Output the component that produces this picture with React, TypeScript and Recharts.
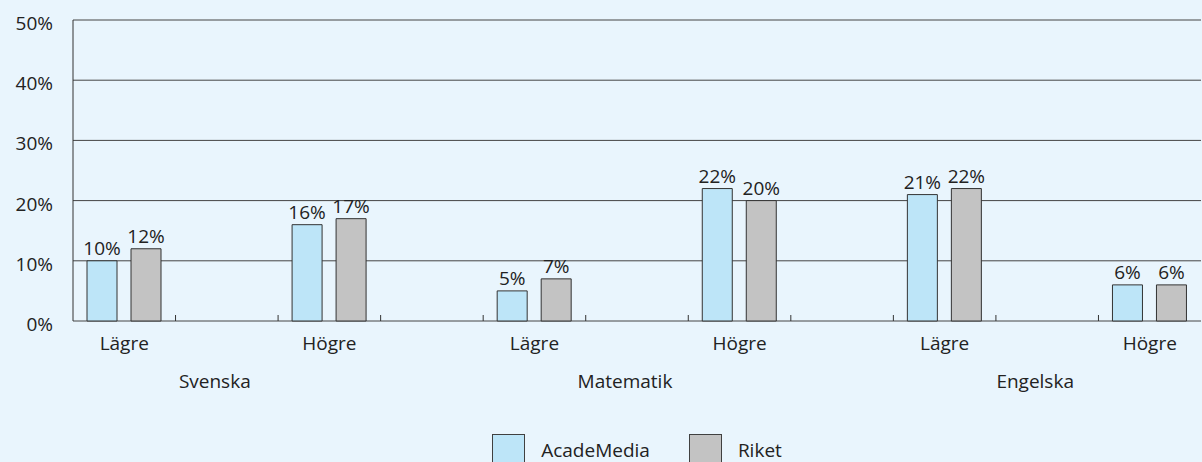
import React from "react";
import { BarChart, Bar, XAxis, YAxis, CartesianGrid, Legend, LabelList } from "recharts";

// slots: a bar pair every other slot, empty slots carry the subject label
const levels = ["Lägre", "", "Högre", "", "Lägre", "", "Högre", "", "Lägre", "", "Högre"];
const subjects = ["", "Svenska", "", "", "", "Matematik", "", "", "", "Engelska", ""];
const acadeMedia = [10, null, 16, null, 5, null, 22, null, 21, null, 6];
const riket = [12, null, 17, null, 7, null, 20, null, 22, null, 6];
const yTicks = [0, 10, 20, 30, 40, 50];
const slotBounds = [1, 2, 3, 4, 5, 6, 7, 8, 9, 10];

const data = levels.map((level, i) => ({
  slot: i,
  AcadeMedia: acadeMedia[i],
  Riket: riket[i],
}));

const FONT = "'Open Sans', 'Noto Sans', sans-serif";
const BG = "#e9f5fd";
const BLUE = "#bde5f8";
const GREY = "#c3c3c3";
const TEXT = "#222";

const CategoryTick = (props: any) => {
  const { x, y, payload } = props;
  const i = Number(payload.value);
  return (
    <g>
      <text x={x} y={y + 22} textAnchor="middle" dominantBaseline="central" fontFamily={FONT} fontSize={19} fill={TEXT}>
        {levels[i]}
      </text>
      {subjects[i] && (
        <text x={x - 12} y={y + 60} textAnchor="middle" dominantBaseline="central" fontFamily={FONT} fontSize={19} fill={TEXT}>
          {subjects[i]}
        </text>
      )}
    </g>
  );
};

const YTick = (props: any) => {
  const { x, y, payload } = props;
  return (
    <text x={x} y={y + 3} textAnchor="end" dominantBaseline="central" fontFamily={FONT} fontSize={19} fill={TEXT}>
      {`${payload.value}%`}
    </text>
  );
};

const EmptyTick = () => <g />;

const renderLegend = (props: any) => {
  const { payload } = props;
  return (
    <div style={{ height: 28, display: "flex", justifyContent: "center", alignItems: "flex-start" }}>
      {payload.map((entry: any, idx: number) => (
        <div key={idx} style={{ display: "flex", alignItems: "center", marginLeft: idx ? 39 : 0 }}>
          <div style={{ width: 33, height: 33, boxSizing: "border-box", background: entry.color, border: "1px solid #404040" }} />
          <span style={{ marginLeft: 16, fontFamily: FONT, fontSize: 19, color: TEXT, lineHeight: "33px" }}>{entry.value}</span>
        </div>
      ))}
    </div>
  );
};

const pct = (v: any) => (v == null ? "" : `${v}%`);

export default function App() {
  return (
    <div style={{ position: "absolute", left: 0, top: 0, width: 1202, height: 462, overflow: "hidden", background: BG }}>
      <BarChart
        width={1202}
        height={462}
        data={data}
        margin={{ top: 20, right: 1, left: 0, bottom: 0 }}
        barSize={30}
        barGap={14}
      >
        <CartesianGrid vertical={false} stroke="#444" />
        <XAxis
          xAxisId={0}
          dataKey="slot"
          type="number"
          domain={[0, 11]}
          ticks={slotBounds}
          interval={0}
          mirror
          height={1}
          tickSize={6}
          axisLine={false}
          tickLine={{ stroke: "#333" }}
          tick={<EmptyTick />}
        />
        <XAxis
          xAxisId={1}
          dataKey="slot"
          type="category"
          height={113}
          tickLine={false}
          tickSize={0}
          tickMargin={0}
          axisLine={false}
          tick={<CategoryTick />}
          interval={0}
        />
        <YAxis
          width={73}
          domain={[0, 50]}
          ticks={yTicks}
          tickLine={false}
          tickSize={0}
          tickMargin={20}
          axisLine={{ stroke: "#333" }}
          tick={<YTick />}
        />
        <Legend
          verticalAlign="bottom"
          content={renderLegend}
          wrapperStyle={{ left: 73, width: 1128 }}
        />
        <Bar xAxisId={1} dataKey="AcadeMedia" fill={BLUE} stroke="#333" isAnimationActive={false}>
          <LabelList dataKey="AcadeMedia" position="top" offset={6} formatter={pct} style={{ fontFamily: FONT, fontSize: 19, fill: TEXT }} />
        </Bar>
        <Bar xAxisId={1} dataKey="Riket" fill={GREY} stroke="#333" isAnimationActive={false}>
          <LabelList dataKey="Riket" position="top" offset={6} formatter={pct} style={{ fontFamily: FONT, fontSize: 19, fill: TEXT }} />
        </Bar>
      </BarChart>
    </div>
  );
}
